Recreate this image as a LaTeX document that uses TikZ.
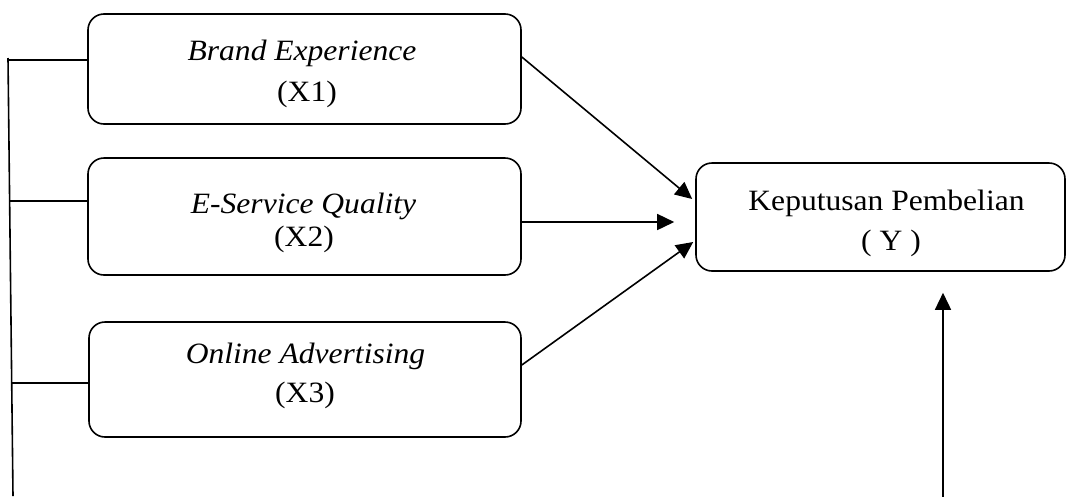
\documentclass[tikz,border=0pt]{standalone}
\usepackage{fontspec}
\setmainfont{Liberation Serif}[FakeStretch=1.07]
\usetikzlibrary{arrows.meta,calc}
\begin{document}
\begin{tikzpicture}[x=1pt,y=-1pt, line width=1.6pt,
  box/.style={draw, rounded corners=16pt, inner sep=0pt},
  lbl/.style={anchor=base, inner sep=0pt, font=\fontsize{29.5}{34}\selectfont},
  arr/.style={-{Triangle[length=17pt,width=16pt]}}]
\useasboundingbox (0,0) rectangle (1067,496);
% boxes
\node[box, minimum width=433pt, minimum height=110pt] (X1) at (304.5,69) {};
\node[box, minimum width=433pt, minimum height=117pt] (X2) at (304.5,216.5) {};
\node[box, minimum width=432pt, minimum height=115pt] (X3) at (305,379.5) {};
\node[box, minimum width=369pt, minimum height=108pt] (Y) at (880.5,217) {};
% texts
\node[lbl] (t1a) at (302,60) {\itshape Brand Experience};
\node[lbl] (t1b) at (307,101) {(X1)};
\node[lbl] (t2a) at (303.5,213) {\itshape E-Service Quality};
\node[lbl] (t2b) at (304,246) {(X2)};
\node[lbl] (t3a) at (305.5,363) {\itshape Online Advertising};
\node[lbl] (t3b) at (305,402) {(X3)};
\node[lbl] (tya) at (886.5,210) {Keputusan Pembelian};
\node[lbl] (tyb) at (891,250) {( Y )};
% left bracket line
\coordinate (L1) at (8,58);
\coordinate (L2) at (13,496);
\draw (L1) -- (L2);
\coordinate (b1) at (9,60);
\coordinate (b2) at (9.6,201);
\coordinate (b3) at (11.7,383);
\draw (b1) -- (b1 -| X1.west);
\draw (b2) -- (b2 -| X2.west);
\draw (b3) -- (b3 -| X3.west);
% arrows to Y
\draw[arr] ($(X1.east)+(0,-12)$) -- ($(Y.west)+(-3,-18)$);
\draw[arr] ($(X2.east)+(0,5.5)$) -- ($(Y.west)+(-21,5)$);
\draw[arr] ($(X3.east)+(0,-14.5)$) -- ($(Y.west)+(-2,25)$);
\coordinate (yb) at (943,497);
\draw[arr] (yb) -- ($(yb |- Y.south)+(0,21)$);
\end{tikzpicture}
\end{document}
